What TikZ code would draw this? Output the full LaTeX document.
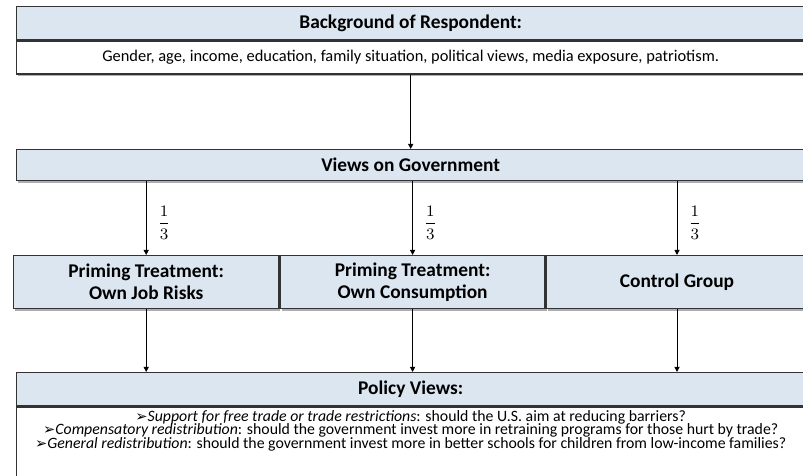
\documentclass[tikz,border=0pt]{standalone}
\usepackage{amsmath}
\usepackage{fontspec}
\setmainfont{Carlito}
\newfontfamily\symfont{DejaVu Sans}
\usepackage{xcolor}
\usetikzlibrary{arrows.meta,positioning,shadows}
\definecolor{headblue}{RGB}{220,230,241}
\newcommand{\pointer}{{\symfont\fontsize{7.3}{6}\selectfont ➢}}
\newcommand{\tightlines}{\fontsize{7.9}{6.6}\selectfont\lineskiplimit=-20pt\relax}

\begin{document}
\begin{tikzpicture}[
    x=0.5pt, y=-0.5pt,
    dropshade/.style={drop shadow={shadow xshift=0.7pt, shadow yshift=-0.9pt, fill=black!45, opacity=0.7}},
    headbox/.style={rectangle, anchor=north west, inner sep=0pt, draw=black!80, line width=0.7pt, fill=headblue, minimum width=394pt, minimum height=16.5pt, font=\fontsize{9.7}{11}\selectfont\bfseries, dropshade},
    bodybox/.style={headbox, fill=white, font=\fontsize{8.2}{10}\selectfont},
    groupbox/.style={headbox, minimum width=132.5pt, minimum height=26.5pt, align=center},
    arrow/.style={line width=0.5pt, -{Triangle[length=2.6pt, width=2.6pt]}},
    share/.style={right=2pt, pos=0.56, font=\fontsize{8}{10}\selectfont}
]
\useasboundingbox (0,0) rectangle (803,476);

% Nodes
\node (bghead) [headbox] at (16,6) {Background of Respondent:};
\node (bgbody) [bodybox, below=0pt of bghead] {Gender, age, income, education, family situation, political views, media exposure, patriotism.};
\node (views) [headbox, minimum height=15.5pt] at (16,149) {Views on Government};
\node (grpjob) [groupbox] at (13,255) {Priming Treatment:\\Own Job Risks};
\node (grpcons) [groupbox, right=0pt of grpjob] {Priming Treatment:\\Own Consumption};
\node (grpctrl) [groupbox, minimum width=130.5pt, right=0pt of grpcons] {Control Group};
\node (polhead) [headbox] at (16,372) {Policy Views:};
\node (polbody) [bodybox, minimum height=50pt, below=0pt of polhead] {};
\node (polview) [below=2pt of polhead.south, inner sep=0pt, align=center, font=\tightlines] {%
  \pointer\textit{Support for free trade or trade restrictions}: should the U.S. aim at reducing barriers?\\
  \pointer\textit{Compensatory redistribution}: should the government invest more in retraining programs for those hurt by trade?\\
  \pointer\textit{General redistribution}: should the government invest more in better schools for children from low-income families?};

% Arrows
\draw [arrow] (bgbody) -- (views);
\draw [arrow] (grpjob.north |- views.south) -- node[share] {$\dfrac{1}{3}$} (grpjob.north);
\draw [arrow] (grpcons.north |- views.south) -- node[share] {$\dfrac{1}{3}$} (grpcons.north);
\draw [arrow] (grpctrl.north |- views.south) -- node[share] {$\dfrac{1}{3}$} (grpctrl.north);
\draw [arrow] (grpjob) -- (grpjob.south |- polhead.north);
\draw [arrow] (grpcons) -- (grpcons.south |- polhead.north);
\draw [arrow] (grpctrl) -- (grpctrl.south |- polhead.north);

\end{tikzpicture}
\end{document}
